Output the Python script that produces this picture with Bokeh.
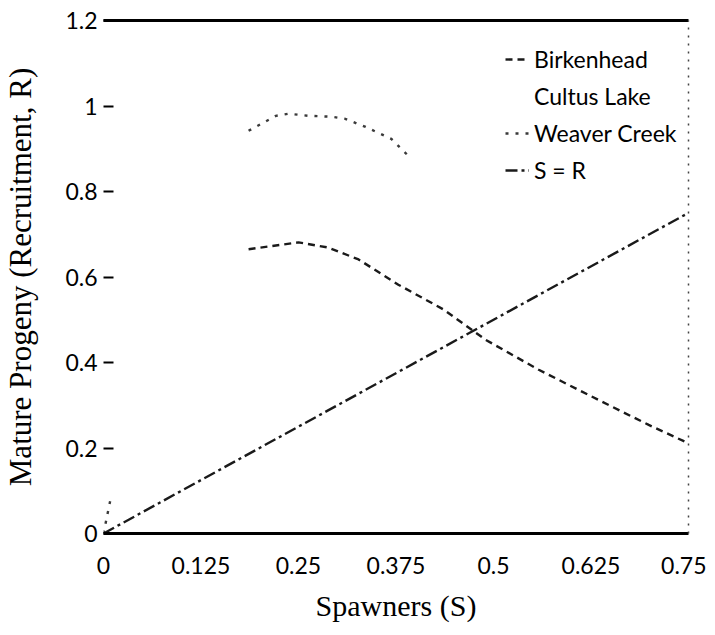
import math
from bokeh.plotting import figure
from bokeh.models import (Range1d, LinearAxis, FixedTicker, Legend, LegendItem)
from bokeh.embed import file_html
from bokeh.resources import INLINE

nan = float("nan")

# ---- data ----
x_ticks = [0, 0.125, 0.25, 0.375, 0.5, 0.625, 0.75]
x_tick_labels = ["0", "0.125", "0.25", "0.375", "0.5", "0.625", "0.75"]
y_ticks = [0, 0.2, 0.4, 0.6, 0.8, 1.0, 1.2]
y_tick_labels = ["0", "0.2", "0.4", "0.6", "0.8", "1", "1.2"]

birk_s = [0.186, 0.25, 0.288, 0.327, 0.378, 0.436, 0.49, 0.558, 0.635, 0.699, 0.75]
birk_r = [0.665, 0.681, 0.669, 0.641, 0.582, 0.524, 0.453, 0.383, 0.312, 0.254, 0.211]

weaver_s = [0.0, 0.009, nan, 0.186, 0.221, 0.237, 0.263, 0.292, 0.310, 0.336, 0.369, 0.391]
weaver_r = [0.0, 0.08, nan, 0.942, 0.977, 0.982, 0.977, 0.975, 0.970, 0.951, 0.923, 0.883]

cultus_s = []   # not legible in the picture
cultus_r = []

sr_s = [0.0, 0.75]
sr_r = [0.0, 0.75]

TICK_FONT = "Lato"
TITLE_FONT = "Liberation Serif"

p = figure(frame_width=585, frame_height=513,
           x_range=Range1d(0, 0.75), y_range=Range1d(0, 1.2),
           output_backend="svg", toolbar_location=None,
           min_border_left=97, min_border_right=18,
           min_border_top=20, min_border_bottom=92,
           background_fill_color="white", border_fill_color="white")
p.grid.visible = False
p.outline_line_color = None

# x axis (bottom)
xa = p.xaxis[0]
xa.ticker = FixedTicker(ticks=x_ticks)
xa.major_label_overrides = {t: l for t, l in zip(x_ticks, x_tick_labels)}
xa.axis_line_color = "black"
xa.axis_line_width = 3
xa.major_tick_in = 0
xa.major_tick_out = 0
xa.minor_tick_in = 0
xa.minor_tick_out = 0
xa.major_label_standoff = 23
xa.major_label_text_font = TICK_FONT
xa.major_label_text_font_size = "23px"
xa.major_label_text_color = "black"
xa.axis_label = "Spawners (S)"
xa.axis_label_text_font = TITLE_FONT
xa.axis_label_text_font_style = "normal"
xa.axis_label_text_font_size = "30px"
xa.axis_label_text_color = "black"
xa.axis_label_standoff = 12

# y axis (left)
ya = p.yaxis[0]
ya.ticker = FixedTicker(ticks=y_ticks)
ya.major_label_overrides = {t: l for t, l in zip(y_ticks, y_tick_labels)}
ya.axis_line_color = None
ya.major_tick_in = 10
ya.major_tick_out = 0
ya.major_tick_line_width = 2
ya.minor_tick_in = 0
ya.minor_tick_out = 0
ya.major_label_standoff = 6
ya.major_label_text_font = TICK_FONT
ya.major_label_text_font_size = "23px"
ya.major_label_text_color = "black"
ya.axis_label = "Mature Progeny (Recruitment, R)"
ya.axis_label_text_font = TITLE_FONT
ya.axis_label_text_font_style = "normal"
ya.axis_label_text_font_size = "31px"
ya.axis_label_text_color = "black"
ya.axis_label_standoff = 24

# top frame line
top = LinearAxis(ticker=FixedTicker(ticks=[]), axis_line_color="black",
                 axis_line_width=3, major_tick_in=0, major_tick_out=0,
                 minor_tick_in=0, minor_tick_out=0)
p.add_layout(top, "above")

# right frame, dotted
right = LinearAxis(ticker=FixedTicker(ticks=[]), axis_line_color="#444444",
                   axis_line_width=1.5, axis_line_dash="2 6",
                   major_tick_in=0, major_tick_out=0,
                   minor_tick_in=0, minor_tick_out=0)
p.add_layout(right, "right")

r_birk = p.line(birk_s, birk_r, line_color="#1a1a1a", line_width=2.4,
                line_dash="7 5")
r_cult = p.line(cultus_s, cultus_r, line_color="#999999", line_width=1.5,
                line_alpha=0)
r_weav = p.line(weaver_s, weaver_r, line_color="#3a3a3a", line_width=2.4,
                line_dash="3 7")
r_sr = p.line(sr_s, sr_r, line_color="#1a1a1a", line_width=2.4,
              line_dash="12 4 3 4")

legend = Legend(items=[
    LegendItem(label="Birkenhead", renderers=[r_birk]),
    LegendItem(label="Cultus Lake", renderers=[r_cult]),
    LegendItem(label="Weaver Creek", renderers=[r_weav]),
    LegendItem(label="S = R", renderers=[r_sr]),
], location=(402, 349))
legend.background_fill_alpha = 0
legend.border_line_color = None
legend.label_text_font = TICK_FONT
legend.label_text_font_size = "23px"
legend.label_text_color = "black"
legend.glyph_width = 24
legend.glyph_height = 20
legend.label_height = 24
legend.label_standoff = 5
legend.spacing = 9
legend.padding = 4
legend.margin = 0
p.add_layout(legend)

open("out.html", "w").write(file_html(p, INLINE))
